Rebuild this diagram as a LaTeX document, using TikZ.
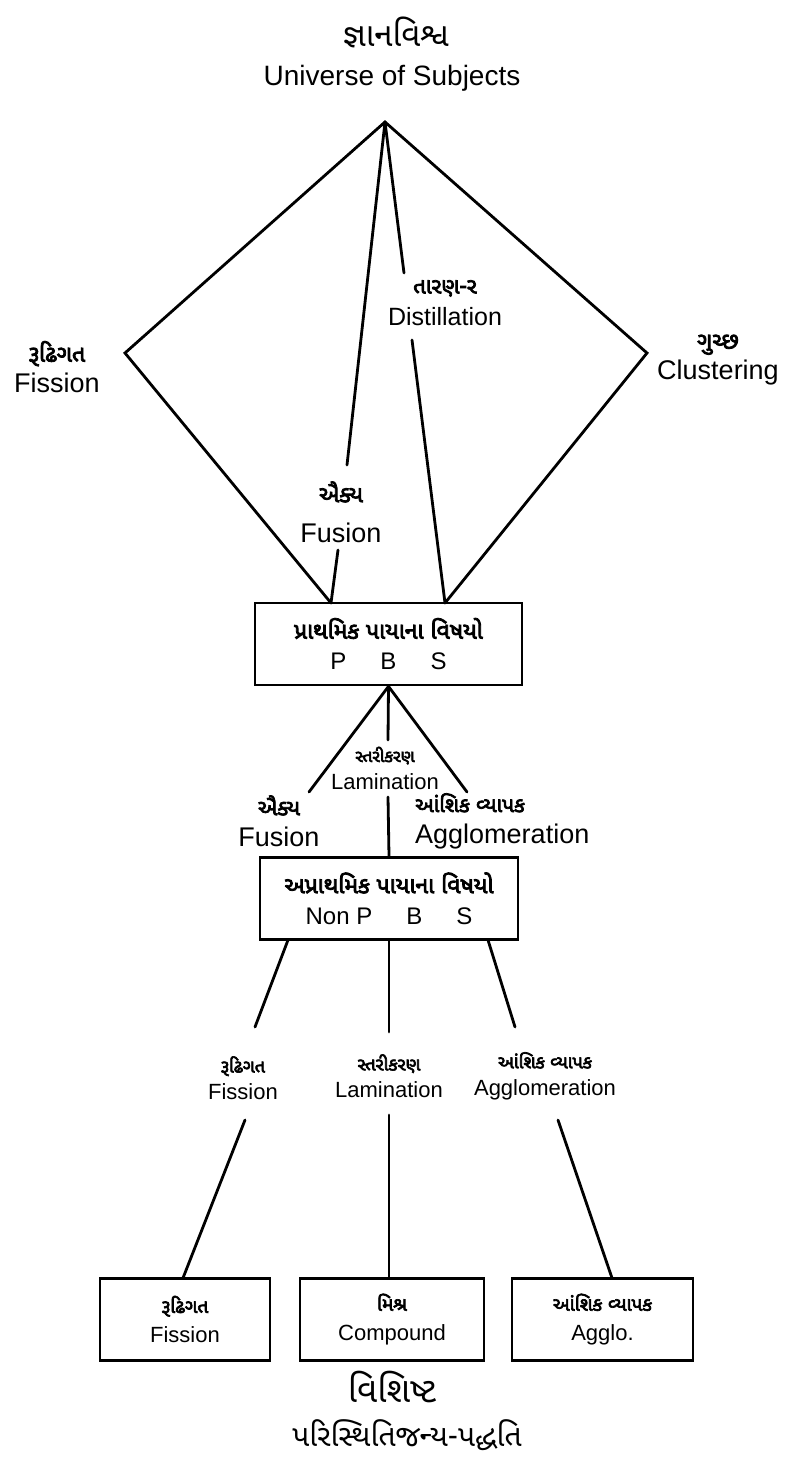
\documentclass[tikz,border=0pt]{standalone}
\usepackage{fontspec}
\setmainfont{Liberation Sans}
\newfontfamily\gujfont[Script=Gujarati]{Noto Sans Gujarati UI}
\newfontfamily\gujbold[Script=Gujarati,AutoFakeBold=3.5]{Noto Sans Gujarati UI}
\newcommand{\gj}[2]{{\fontsize{#1}{#1}\selectfont\gujbold\bfseries #2}}
\usetikzlibrary{positioning}

\begin{document}
\begin{tikzpicture}[
    x=1pt, y=-1pt,
    edge/.style={line width=2.8pt, line cap=round},
    subjbox/.style={draw, line width=2.8pt, minimum width=#1, minimum height=82pt, align=center, inner sep=0pt},
    lblbig/.style={align=center, inner sep=0pt, font=\fontsize{27}{31}\selectfont},
    lblsmall/.style={align=center, inner sep=0pt, font=\fontsize{22}{27}\selectfont},
    headline/.style={inner sep=0pt, font=\fontsize{#1}{34}\selectfont\gujfont}
]
    \useasboundingbox (0,0) rectangle (792,1458);

    % Titles
    \node[headline=33] (jnana) at (396,32) {જ્ઞાનવિશ્વ};
    \node[inner sep=0pt, font=\fontsize{28}{32}\selectfont] (univ) at (392,78) {Universe of Subjects};

    % Diamond points
    \coordinate (apex) at (385,122);
    \coordinate (lv) at (125,353);
    \coordinate (rv) at (647,353);
    \coordinate (b1l) at (331,603);
    \coordinate (b1r) at (445,603);
    \coordinate (fuA) at (347,465);
    \coordinate (fuB) at (338,550);
    \coordinate (diA) at (404,273);
    \coordinate (diB) at (412,340);

    % Upper labels
    \node[lblbig] (fisU) at (57,367) {\gj{23}{રૂઢિગત}\\Fission};
    \node[lblbig] (clusU) at (718,360) {\gj{23}{ગુચ્છ}\\Clustering};
    \node[lblbig, font=\fontsize{25}{32}\selectfont] (distU) at (445,303) {\gj{22}{તારણ-ર}\\Distillation};
    \node[lblbig, font=\fontsize{27}{40}\selectfont] (fusU) at (341,512) {\gj{23}{ઐક્ય}\\Fusion};

    % Primary basic subjects
    \node[subjbox=267pt, font=\fontsize{24}{31}\selectfont] (pbs) at (388.5,644)
        {\gj{23}{પ્રાથમિક પાયાના વિષયો}\\P\hspace{34pt}B\hspace{34pt}S};

    \draw[edge] (b1l) -- (lv) -- (apex) -- (rv) -- (b1r);
    \draw[edge] (apex) -- (fuA);
    \draw[edge] (fuB) -- (b1l);
    \draw[edge] (apex) -- (diA);
    \draw[edge] (diB) -- (b1r);

    % Middle labels
    \coordinate (m1) at (309,792);
    \coordinate (m2) at (467,792);
    \coordinate (lamTop) at (388,740);
    \coordinate (lamBot) at (388,797);
    \node[lblsmall] (lamM) at (385,768) {\gj{17}{સ્તરીકરણ}\\Lamination};
    \node[lblbig] (fusM) at (279,821) {\gj{22}{ઐક્ય}\\Fusion};
    \node[lblbig, align=left, anchor=west] (aggM) at (415,821) {\gj{21}{આંશિક વ્યાપક}\\Agglomeration};

    % Non-primary basic subjects
    \node[subjbox=258pt, font=\fontsize{24}{31}\selectfont] (npbs) at (389,898.5)
        {\gj{23}{અપ્રાથમિક પાયાના વિષયો}\\Non P\hspace{34pt}B\hspace{34pt}S};

    \draw[edge] (pbs.south) -- (m1);
    \draw[edge] (pbs.south) -- (m2);
    \draw[edge] (pbs.south) -- (lamTop);
    \draw[edge] (lamBot) -- (npbs.north);

    % Lower labels
    \coordinate (n1) at (288,940);
    \coordinate (n3) at (488,940);
    \coordinate (l1a) at (255,1027);
    \coordinate (l2a) at (389,1032);
    \coordinate (l3a) at (515,1027);
    \coordinate (l1b) at (245,1120);
    \coordinate (l2b) at (389,1115);
    \coordinate (l3b) at (558,1120);
    \node[lblsmall] (fisL) at (243,1078) {\gj{18}{રૂઢિગત}\\Fission};
    \node[lblsmall] (lamL) at (389,1076) {\gj{18}{સ્તરીકરણ}\\Lamination};
    \node[lblsmall] (aggL) at (545,1076) {\gj{18}{આંશિક વ્યાપક}\\Agglomeration};

    % Specific subjects
    \node[subjbox=170pt, font=\fontsize{22}{30}\selectfont] (fisBox) at (185,1319.5) {\gj{19}{રૂઢિગત}\\Fission};
    \node[subjbox=184pt, font=\fontsize{22}{30}\selectfont] (cmpBox) at (392,1319.5) {\gj{19}{મિશ્ર}\\Compound};
    \node[subjbox=181pt, font=\fontsize{22}{30}\selectfont] (aggBox) at (602.5,1319.5) {\gj{19}{આંશિક વ્યાપક}\\Agglo.};
    \coordinate (f1) at (183,1278);
    \coordinate (f2) at (389,1278);
    \coordinate (f3) at (612,1278);

    \draw[edge] (n1) -- (l1a);
    \draw[edge] (npbs.south) -- (l2a);
    \draw[edge] (n3) -- (l3a);
    \draw[edge] (l1b) -- (f1);
    \draw[edge] (l2b) -- (f2);
    \draw[edge] (l3b) -- (f3);

    % Bottom titles
    \node[headline=35] (vishisht) at (392,1387) {વિશિષ્ટ};
    \node[headline=30] (paristhiti) at (407,1435) {પરિસ્થિતિજન્ય-પદ્ધતિ};
\end{tikzpicture}
\end{document}
